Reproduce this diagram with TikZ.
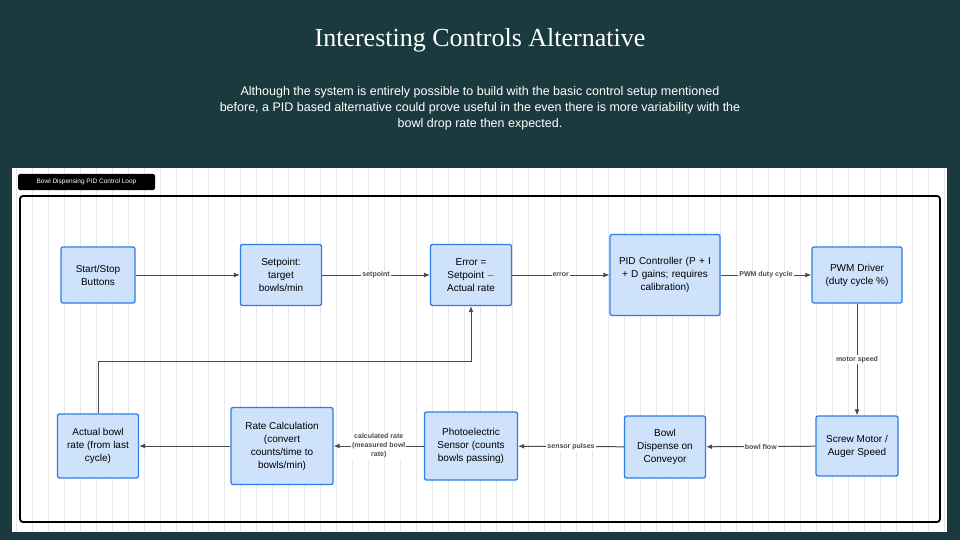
\documentclass[tikz,border=0pt]{standalone}
\usepackage{fontspec}
\setmainfont{Liberation Serif}
\setsansfont{Liberation Sans}
\usetikzlibrary{arrows.meta, positioning, calc}
\definecolor{SlideBg}{RGB}{27, 58, 63}
\definecolor{BoxFill}{RGB}{207, 226, 252}
\definecolor{BoxLine}{RGB}{43, 125, 233}
\definecolor{LinkGray}{RGB}{70, 74, 82}
\definecolor{GridGray}{RGB}{232, 232, 234}
\begin{document}
\begin{tikzpicture}[x=1pt, y=-1pt,
    block/.style={draw=BoxLine, line width=1.3pt, fill=BoxFill, rounded corners=2pt,
        align=center, font=\sffamily\fontsize{10}{13}\selectfont, inner sep=3pt},
    link/.style={draw=LinkGray, line width=1pt, -{Latex[length=6pt,width=5pt]}},
    tag/.style={fill=white, font=\sffamily\bfseries\fontsize{7}{8}\selectfont, text=LinkGray, inner sep=1pt, align=center}]
    % Slide background and panel
    \fill[SlideBg] (0,0) rectangle (960,540);
    \useasboundingbox (0,0) rectangle (960,540);
    \fill[white] (12,168) rectangle (947,532);
    \draw[GridGray, line width=0.4pt, step=16] (12,168) grid (947,532);
    \draw[black, line width=1.8pt, rounded corners=3pt] (20,196) rectangle (940,522);
    \node[fill=black, rounded corners=2pt, text=white, font=\sffamily\fontsize{6.5}{8}\selectfont,
        minimum width=137, minimum height=16, inner sep=1pt] (frame) at (86.5,182) {Bowl Dispensing PID Control Loop};

    % Heading
    \node[text=white, font=\fontsize{26}{30}\selectfont] (title) at (480,40) {Interesting Controls Alternative};
    \node[text=white, align=center, font=\sffamily\fontsize{12.5}{16}\selectfont] (intro) at (480,108)
        {Although the system is entirely possible to build with the basic control setup mentioned\\
         before, a PID based alternative could prove useful in the even there is more variability with the\\
         bowl drop rate then expected.};

    % Top row
    \node[block, minimum width=74, minimum height=56] (buttons) at (98,275) {Start/Stop\\Buttons};
    \node[block, minimum width=81, minimum height=61] (setpoint) at (281,275) {Setpoint:\\target\\bowls/min};
    \node[block, minimum width=81, minimum height=61] (error) at (471,275) {Error =\\Setpoint $-$\\Actual rate};
    \node[block, minimum width=110, minimum height=81, text width=100] (pid) at (665,275) {PID Controller (P + I\\+ D gains; requires\\calibration)};
    \node[block, minimum width=90, minimum height=56] (pwm) at (857,275) {PWM Driver\\(duty cycle \%)};

    % Bottom row
    \node[block, minimum width=82, minimum height=60] (motor) at (857,446) {Screw Motor /\\Auger Speed};
    \node[block, minimum width=81, minimum height=62] (dispense) at (665,447) {Bowl\\Dispense on\\Conveyor};
    \node[block, minimum width=93, minimum height=68] (sensor) at (471,446) {Photoelectric\\Sensor (counts\\bowls passing)};
    \node[block, minimum width=102, minimum height=77] (rate) at (282,446) {Rate Calculation\\(convert\\counts/time to\\bowls/min)};
    \node[block, minimum width=81, minimum height=64] (actual) at (98,446) {Actual bowl\\rate (from last\\cycle)};

    % Connectors
    \draw[link] (buttons) -- (setpoint);
    \draw[link] (setpoint) -- node[tag] {setpoint} (error);
    \draw[link] (error) -- node[tag] {error} (pid);
    \draw[link] (pid) -- node[tag] {PWM duty cycle} (pwm);
    \draw[link] (pwm) -- node[tag] {motor speed} (motor);
    \draw[link] (motor) -- node[tag] {bowl flow} (dispense);
    \draw[link] (dispense) -- node[tag] {sensor pulses} (sensor);
    \draw[link] (sensor) -- node[tag, font=\sffamily\bfseries\fontsize{7}{9}\selectfont] {calculated rate\\(measured bowl\\rate)} (rate);
    \draw[link] (rate) -- (actual);
    \draw[link] (actual.north) -- ++(0,-52) -| (error.south);
\end{tikzpicture}
\end{document}
